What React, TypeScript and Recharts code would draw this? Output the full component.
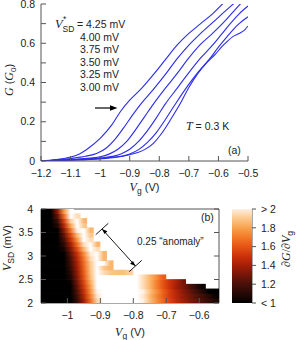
import React from 'react';
import { LineChart, Line, XAxis, YAxis, ScatterChart, Scatter } from 'recharts';

const SANS = '"Liberation Sans", Arial, Helvetica, sans-serif';
const SERIF = '"Liberation Serif", "Times New Roman", Times, serif';
const FRAME = '#555555';
const INK = '#222222';
const BLUE = '#2b2bf2';
const TL = 5;
const FS = 10.5;

// ---------- panel (a) ----------
const VG_TICKS_A = [-1.2, -1.1, -1, -0.9, -0.8, -0.7, -0.6, -0.5];
const G_TICKS = [0, 0.1, 0.2, 0.3, 0.4, 0.5, 0.6, 0.7, 0.8];
const G_LABELS = [0, 0.2, 0.4, 0.6, 0.8];
const LEGEND_REST = ['4.00 mV', '3.75 mV', '3.50 mV', '3.25 mV', '3.00 mV'];

const C425 = [[-1.2, 0.0], [-1.15, 0.007], [-1.1, 0.02], [-1.07, 0.036], [-1.04, 0.065], [-1.0, 0.115], [-0.96, 0.185], [-0.93, 0.255], [-0.9, 0.31], [-0.86, 0.37], [-0.82, 0.44], [-0.78, 0.515], [-0.74, 0.59], [-0.7, 0.65], [-0.66, 0.7], [-0.62, 0.75], [-0.58, 0.81]];
const C400 = [[-1.2, 0.0], [-1.15, 0.005], [-1.1, 0.013], [-1.05, 0.024], [-1.01, 0.04], [-0.98, 0.065], [-0.95, 0.11], [-0.92, 0.17], [-0.89, 0.235], [-0.86, 0.295], [-0.82, 0.365], [-0.78, 0.44], [-0.74, 0.52], [-0.7, 0.59], [-0.66, 0.65], [-0.62, 0.705], [-0.58, 0.76], [-0.55, 0.8], [-0.52, 0.84]];
const C375 = [[-1.2, 0.0], [-1.1, 0.008], [-1.0, 0.022], [-0.97, 0.035], [-0.94, 0.06], [-0.91, 0.1], [-0.88, 0.16], [-0.85, 0.225], [-0.82, 0.29], [-0.78, 0.37], [-0.74, 0.445], [-0.7, 0.525], [-0.66, 0.595], [-0.62, 0.65], [-0.58, 0.71], [-0.55, 0.76], [-0.52, 0.81]];
const C350 = [[-1.2, 0.0], [-1.1, 0.006], [-1.0, 0.016], [-0.95, 0.026], [-0.93, 0.036], [-0.9, 0.06], [-0.87, 0.1], [-0.84, 0.155], [-0.81, 0.22], [-0.78, 0.29], [-0.74, 0.37], [-0.7, 0.45], [-0.66, 0.525], [-0.62, 0.59], [-0.59, 0.645], [-0.56, 0.7], [-0.53, 0.75], [-0.5, 0.79]];
const C325 = [[-1.2, 0.0], [-1.1, 0.005], [-1.0, 0.013], [-0.95, 0.02], [-0.9, 0.036], [-0.87, 0.058], [-0.84, 0.095], [-0.81, 0.145], [-0.78, 0.21], [-0.75, 0.28], [-0.71, 0.37], [-0.67, 0.45], [-0.63, 0.52], [-0.6, 0.58], [-0.57, 0.635], [-0.55, 0.67], [-0.53, 0.7], [-0.5, 0.735]];
const C300 = [[-1.2, 0.0], [-1.1, 0.004], [-1.0, 0.011], [-0.95, 0.018], [-0.9, 0.032], [-0.87, 0.045], [-0.85, 0.058], [-0.82, 0.09], [-0.79, 0.145], [-0.76, 0.215], [-0.73, 0.29], [-0.7, 0.375], [-0.67, 0.445], [-0.64, 0.5], [-0.61, 0.545], [-0.59, 0.58], [-0.57, 0.61], [-0.55, 0.635], [-0.53, 0.65], [-0.51, 0.67], [-0.5, 0.688]];
const CURVES = [C425, C400, C375, C350, C325, C300];

// ---------- panel (b) ----------
const VG_TICKS_B = [-1, -0.9, -0.8, -0.7, -0.6];
const VSD_TICKS = [2, 2.5, 3, 3.5, 4];
const VG_COLS = [-1.07, -1.05, -1.03, -1.01, -0.99, -0.97, -0.95, -0.93, -0.91, -0.89, -0.87, -0.85, -0.83, -0.81, -0.79, -0.77, -0.75, -0.73, -0.71, -0.69, -0.67, -0.65, -0.63, -0.61, -0.59, -0.57, -0.55];
const VSD_ROWS = [2.05, 2.15, 2.25, 2.35, 2.45, 2.55, 2.65, 2.75, 2.85, 2.95, 3.05, 3.15, 3.25, 3.35, 3.45, 3.55, 3.65, 3.75, 3.85, 3.95];
// dG/dVg per row (VSD_ROWS), per column (VG_COLS); a short row means no data further right
const HEAT: number[][] = [
  [0.9, 0.9, 0.9, 0.9, 0.9, 1.14, 1.4, 1.66, 1.93, 2.2, 2.2, 2.2, 2.2, 2.2, 2.1, 2.0, 1.88, 1.76, 1.65, 1.55, 1.47, 1.4, 1.33, 1.27, 1.2, 1.14, 1.08],
  [0.9, 0.9, 0.9, 0.9, 0.9, 1.18, 1.44, 1.7, 1.97, 2.2, 2.2, 2.2, 2.2, 2.2, 2.1, 1.98, 1.86, 1.74, 1.63, 1.53, 1.45, 1.37, 1.3, 1.23, 1.17, 1.1, 1.02],
  [0.9, 0.9, 0.9, 0.9, 0.95, 1.22, 1.48, 1.75, 2.01, 2.2, 2.2, 2.2, 2.2, 2.2, 2.1, 2.0, 1.88, 1.76, 1.64, 1.53, 1.44, 1.35, 1.27, 1.18, 1.1, 1.0, 0.95],
  [0.9, 0.9, 0.9, 0.9, 0.98, 1.26, 1.52, 1.78, 2.05, 2.15, 2.15, 2.15, 2.15, 2.15, 2.05, 1.95, 1.85, 1.72, 1.6, 1.5, 1.4, 1.32, 1.22, 1.12, 1.02],
  [0.9, 0.9, 0.9, 0.9, 1.03, 1.3, 1.56, 1.82, 2.08, 2.15, 2.15, 2.15, 2.15, 2.15, 2.05, 1.95, 1.85, 1.72, 1.6, 1.5, 1.42, 1.3],
  [0.9, 0.9, 0.9, 0.9, 1.07, 1.33, 1.6, 1.86, 2.1, 2.1, 2.05, 2.05, 2.1, 2.15, 2.05, 1.95, 1.85, 1.75, 1.62],
  [0.9, 0.9, 0.9, 0.9, 1.1, 1.36, 1.62, 1.88, 2.05, 1.95, 1.9, 1.88, 1.88, 1.92],
  [0.9, 0.9, 0.9, 0.9, 1.14, 1.39, 1.64, 1.89, 2.05, 1.9, 1.85],
  [0.9, 0.9, 0.9, 0.9, 1.17, 1.41, 1.66, 1.9, 2.1, 2.05, 1.85],
  [0.9, 0.9, 0.9, 0.96, 1.2, 1.45, 1.69, 1.94, 2.1, 1.85],
  [0.9, 0.9, 0.9, 1.0, 1.25, 1.49, 1.74, 1.98, 2.1, 1.85],
  [0.9, 0.9, 0.9, 1.06, 1.32, 1.58, 1.85, 2.11, 1.95],
  [0.9, 0.9, 0.9, 1.11, 1.39, 1.67, 1.95, 2.15, 1.85],
  [0.9, 0.9, 0.9, 1.18, 1.48, 1.77, 2.07, 1.95],
  [0.9, 0.9, 0.95, 1.25, 1.56, 1.87, 2.15, 1.9],
  [0.9, 0.9, 1.0, 1.34, 1.67, 2.0, 2.15, 1.85],
  [0.9, 0.9, 1.08, 1.44, 1.8, 2.15, 1.9],
  [0.9, 0.9, 1.16, 1.54, 1.92, 2.1, 1.85],
  [0.9, 0.9, 1.25, 1.66, 2.1, 1.95],
  [0.9, 0.92, 1.35, 1.78, 2.1],
];
const CB_TICKS = [1, 1.2, 1.4, 1.6, 1.8, 2];
const CB_LABELS = ['< 1', '1.2', '1.4', '1.6', '1.8', '> 2'];

// ---------- colour map ----------
const CMAP: [number, string][] = [
  [1.0, '#000000'], [1.1, '#260905'], [1.2, '#481008'], [1.3, '#761608'], [1.4, '#a51e06'],
  [1.5, '#cc320a'], [1.6, '#e65414'], [1.7, '#f47a28'], [1.8, '#f9a24e'], [1.9, '#fcc88c'],
  [2.0, '#fff0e2'], [2.05, '#ffffff'],
];
const hex = (h: string) => [1, 3, 5].map((i) => parseInt(h.slice(i, i + 2), 16));
function heatColor(v: number): string {
  if (v <= CMAP[0][0]) return CMAP[0][1];
  if (v >= CMAP[CMAP.length - 1][0]) return CMAP[CMAP.length - 1][1];
  for (let i = 0; i < CMAP.length - 1; i++) {
    const [a, ca] = CMAP[i];
    const [b, cb] = CMAP[i + 1];
    if (v >= a && v <= b) {
      const t = (v - a) / (b - a);
      const A = hex(ca), B = hex(cb);
      const m = A.map((x, k) => Math.round(x + (B[k] - x) * t));
      return `rgb(${m[0]},${m[1]},${m[2]})`;
    }
  }
  return '#fff';
}

const fmt = (v: number) => {
  const r = Math.round(v * 100) / 100;
  return (r < 0 ? '\u2212' : '') + String(Math.abs(r));
};
const has = (arr: number[], v: number) => arr.some((a) => Math.abs(a - v) < 1e-6);

// ---------- tick renderers (inward ticks) ----------
const bottomTick = (p: any) => (
  <g>
    <line x1={p.x} y1={p.y} x2={p.x} y2={p.y - TL} stroke={FRAME} strokeWidth={1} />
    <text x={p.x} y={p.y + 16} textAnchor="middle" fontFamily={SANS} fontSize={FS} fill={INK}>{fmt(p.payload.value)}</text>
  </g>
);
const topTick = (p: any) => (
  <line x1={p.x} y1={p.y} x2={p.x} y2={p.y + TL} stroke={FRAME} strokeWidth={1} />
);
const leftTick = (labels: number[], gap: number) => (p: any) => (
  <g>
    <line x1={p.x} y1={p.y} x2={p.x + TL} y2={p.y} stroke={FRAME} strokeWidth={1} />
    {has(labels, p.payload.value) && (
      <text x={p.x - gap} y={p.y + 3.7} textAnchor="end" fontFamily={SANS} fontSize={FS} fill={INK}>{fmt(p.payload.value)}</text>
    )}
  </g>
);
const rightTick = (p: any) => (
  <line x1={p.x} y1={p.y} x2={p.x - TL} y2={p.y} stroke={FRAME} strokeWidth={1} />
);
const cbTick = (p: any) => {
  const i = CB_TICKS.findIndex((t) => Math.abs(t - p.payload.value) < 1e-6);
  return (
    <g>
      <line x1={p.x} y1={p.y} x2={p.x + 4} y2={p.y} stroke={FRAME} strokeWidth={1} />
      <text x={p.x + 9} y={p.y + 3.7} textAnchor="start" fontFamily={SANS} fontSize={FS} fill={INK}>{i >= 0 ? CB_LABELS[i] : ''}</text>
    </g>
  );
};

// ---------- panel (b) geometry ----------
const B_W = 298, B_H = 145;
const B_M = { top: 13, right: 78, bottom: 0, left: 0 };
const B_YW = 41, B_RW = 1, B_TH = 1, B_XH = 37;
const B_XDOM: [number, number] = [-1.08, -0.54];
const B_YDOM: [number, number] = [2, 4];
const PLOT_W = B_W - B_M.left - B_M.right - B_YW - B_RW;
const PLOT_H = B_H - B_M.top - B_M.bottom - B_TH - B_XH;
const CELL_W = (PLOT_W * 0.02) / (B_XDOM[1] - B_XDOM[0]);
const CELL_H = (PLOT_H * 0.1) / (B_YDOM[1] - B_YDOM[0]);

// one mark per bias row, anchored at the first gate-voltage column
const heatRows = HEAT.map((vals, r) => ({ x: VG_COLS[0], y: VSD_ROWS[r], vals, r }));

const HeatRow = (p: any) => {
  const vals: number[] = p.payload.vals;
  const n = vals.length;
  const id = `heatrow${p.payload.r}`;
  return (
    <g>
      <defs>
        <linearGradient id={id} x1="0" y1="0" x2="1" y2="0">
          {vals.map((v, c) => (
            <stop key={c} offset={(c + 0.5) / n} stopColor={heatColor(v)} />
          ))}
        </linearGradient>
      </defs>
      <rect x={p.cx - CELL_W / 2} y={p.cy - CELL_H / 2 - 0.35} width={n * CELL_W} height={CELL_H + 0.7} fill={`url(#${id})`} stroke="none" />
    </g>
  );
};

// colour bar
const CB_M = { top: 14, right: 6, bottom: B_XH, left: 232 };
const CB_YW = 40;
const CB_W = B_W - CB_M.left - CB_M.right - CB_YW;
const CB_H = B_H - CB_M.top - CB_M.bottom;
const cbPoint = [{ x: 0.5, y: 1.5 }];
const CbBar = (p: any) => (
  <g>
    <defs>
      <linearGradient id="cbgrad" x1="0" y1="1" x2="0" y2="0">
        {CMAP.map(([v, col]) => (
          <stop key={v} offset={Math.min(1, Math.max(0, v - 1))} stopColor={col} />
        ))}
      </linearGradient>
    </defs>
    <rect x={p.cx - CB_W / 2} y={p.cy - CB_H / 2} width={CB_W} height={CB_H} fill="url(#cbgrad)" stroke="none" />
  </g>
);

export default function App() {
  return (
    <div style={{ position: 'absolute', left: 0, top: 0, width: 298, height: 340, background: '#fff', overflow: 'hidden' }}>
      {/* panel (a) */}
      <div style={{ position: 'absolute', left: 0, top: 0 }}>
        <LineChart width={298} height={200} margin={{ top: 4, right: 50, bottom: 0, left: 0 }}>
          {CURVES.map((c, i) => (
            <Line key={i} data={c.map(([v, g]) => ({ v, g }))} dataKey="g" xAxisId="b" yAxisId="l" type="monotone"
              stroke={BLUE} strokeWidth={1.1} dot={false} activeDot={false} isAnimationActive={false} />
          ))}
          <XAxis xAxisId="b" dataKey="v" type="number" domain={[-1.2, -0.5]} allowDataOverflow ticks={VG_TICKS_A} interval={0}
            height={39} tickSize={0} tickMargin={0} tickLine={false} axisLine={{ stroke: FRAME }} tick={bottomTick} />
          <XAxis xAxisId="t" orientation="top" type="number" domain={[-1.2, -0.5]} allowDataOverflow ticks={VG_TICKS_A} interval={0}
            height={0} tickSize={0} tickMargin={0} tickLine={false} axisLine={{ stroke: FRAME }} tick={topTick} />
          <YAxis yAxisId="l" type="number" domain={[0, 0.8]} allowDataOverflow ticks={G_TICKS} interval={0}
            width={41} tickSize={0} tickMargin={0} tickLine={false} axisLine={{ stroke: FRAME }} tick={leftTick(G_LABELS, 6)} />
          <YAxis yAxisId="r" orientation="right" type="number" domain={[0, 0.8]} allowDataOverflow ticks={G_TICKS} interval={0}
            width={0} tickSize={0} tickMargin={0} tickLine={false} axisLine={{ stroke: FRAME }} tick={rightTick} />
        </LineChart>
      </div>

      {/* panel (b) heat map */}
      <div style={{ position: 'absolute', left: 0, top: 195 }}>
        <ScatterChart width={B_W} height={B_H} margin={B_M}>
          <Scatter data={heatRows} xAxisId="b" yAxisId="l" shape={HeatRow} isAnimationActive={false} />
          <XAxis xAxisId="b" dataKey="x" type="number" domain={B_XDOM} allowDataOverflow ticks={VG_TICKS_B} interval={0}
            height={B_XH} tickSize={0} tickMargin={0} tickLine={false} axisLine={{ stroke: FRAME }} tick={bottomTick} />
          <XAxis xAxisId="t" orientation="top" type="number" domain={B_XDOM} allowDataOverflow ticks={VG_TICKS_B} interval={0}
            height={B_TH} tickSize={0} tickMargin={0} tickLine={false} axisLine={{ stroke: FRAME }} tick={topTick} />
          <YAxis yAxisId="l" dataKey="y" type="number" domain={B_YDOM} allowDataOverflow ticks={VSD_TICKS} interval={0}
            width={B_YW} tickSize={0} tickMargin={0} tickLine={false} axisLine={{ stroke: FRAME }} tick={leftTick(VSD_TICKS, 8)} />
          <YAxis yAxisId="r" orientation="right" type="number" domain={B_YDOM} allowDataOverflow ticks={VSD_TICKS} interval={0}
            width={B_RW} tickSize={0} tickMargin={0} tickLine={false} axisLine={{ stroke: FRAME }} tick={rightTick} />
        </ScatterChart>
      </div>

      {/* colour bar */}
      <div style={{ position: 'absolute', left: 0, top: 195 }}>
        <ScatterChart width={B_W} height={B_H} margin={CB_M}>
          <Scatter data={cbPoint} xAxisId="c" yAxisId="c" shape={CbBar} isAnimationActive={false} />
          <XAxis xAxisId="c" dataKey="x" type="number" domain={[0, 1]} hide />
          <YAxis yAxisId="c" dataKey="y" orientation="right" type="number" domain={[1, 2]} allowDataOverflow ticks={CB_TICKS} interval={0}
            width={CB_YW} tickSize={0} tickMargin={0} tickLine={false} axisLine={{ stroke: FRAME }} tick={cbTick} />
        </ScatterChart>
      </div>

      {/* annotations and axis titles */}
      <svg width={298} height={340} style={{ position: 'absolute', left: 0, top: 0, pointerEvents: 'none' }}>
        <text transform="translate(13,80) rotate(-90)" textAnchor="middle" fill={INK} fontSize={12}>
          <tspan fontFamily={SERIF} fontStyle="italic">G</tspan>
          <tspan fontFamily={SANS} fontSize={11}> (</tspan>
          <tspan fontFamily={SERIF} fontStyle="italic">G</tspan>
          <tspan fontFamily={SANS} fontSize={8} dy={2.5}>0</tspan>
          <tspan fontFamily={SANS} fontSize={11} dy={-2.5}>)</tspan>
        </text>
        <text x={144.5} y={191} textAnchor="middle" fill={INK} fontSize={12}>
          <tspan fontFamily={SERIF} fontStyle="italic">V</tspan>
          <tspan fontFamily={SANS} fontSize={8.5} dy={2.5}>g</tspan>
          <tspan fontFamily={SANS} fontSize={11} dy={-2.5}> (V)</tspan>
        </text>
        <text x={55} y={28} fill={INK} fontFamily={SERIF} fontStyle="italic" fontSize={12.5}>V</text>
        <text x={63} y={22} fill={INK} fontFamily={SANS} fontSize={8.5}>*</text>
        <text x={62.5} y={31.5} fill={INK} fontFamily={SANS} fontSize={8.5}>SD</text>
        <text x={77} y={28} fill={INK} fontFamily={SANS} fontSize={FS}>= 4.25 mV</text>
        {LEGEND_REST.map((t, i) => (
          <text key={t} x={80} y={40.5 + i * 12.5} fill={INK} fontFamily={SANS} fontSize={FS}>{t}</text>
        ))}
        <line x1={95} y1={108} x2={111} y2={108} stroke="#000" strokeWidth={1.2} />
        <polygon points="117.5,108 110,105.3 110,110.7" fill="#000" />
        <text x={186} y={130} fill={INK} fontSize={FS}>
          <tspan fontFamily={SERIF} fontStyle="italic" fontSize={12}>T</tspan>
          <tspan fontFamily={SANS}> = 0.3 K</tspan>
        </text>
        <text x={228} y={154} fill={INK} fontFamily={SANS} fontSize={FS}>(a)</text>

        <text x={201} y={221} fill={INK} fontFamily={SANS} fontSize={FS}>(b)</text>
        <text x={137} y={245} fill={INK} fontFamily={SANS} fontSize={10}>0.25 “anomaly”</text>
        <line x1={102} y1={229} x2={135.5} y2={266} stroke="#000" strokeWidth={0.9} />
        <line x1={108.3} y1={223.3} x2={95.7} y2={234.7} stroke="#000" strokeWidth={0.9} />
        <line x1={141.8} y1={260.3} x2={129.2} y2={271.7} stroke="#000" strokeWidth={0.9} />
        <polygon points="102,229 107.4,231.3 104.5,233.9" fill="#000" />
        <polygon points="135.5,266 130.1,263.7 133,261.1" fill="#000" />
        <text transform="translate(11,248) rotate(-90)" textAnchor="middle" fill={INK} fontSize={12}>
          <tspan fontFamily={SERIF} fontStyle="italic">V</tspan>
          <tspan fontFamily={SANS} fontSize={8.5} dy={2.5}>SD</tspan>
          <tspan fontFamily={SANS} fontSize={11} dy={-2.5}> (mV)</tspan>
        </text>
        <text x={130} y={336} textAnchor="middle" fill={INK} fontSize={12}>
          <tspan fontFamily={SERIF} fontStyle="italic">V</tspan>
          <tspan fontFamily={SANS} fontSize={8.5} dy={2.5}>g</tspan>
          <tspan fontFamily={SANS} fontSize={11} dy={-2.5}> (V)</tspan>
        </text>
        <text transform="translate(290,249) rotate(-90)" textAnchor="middle" fill={INK} fontSize={12}>
          <tspan fontFamily={SERIF}>∂</tspan>
          <tspan fontFamily={SERIF} fontStyle="italic">G</tspan>
          <tspan fontFamily={SERIF}>/∂</tspan>
          <tspan fontFamily={SERIF} fontStyle="italic">V</tspan>
          <tspan fontFamily={SANS} fontSize={8.5} dy={2.5}>g</tspan>
        </text>
      </svg>
    </div>
  );
}
